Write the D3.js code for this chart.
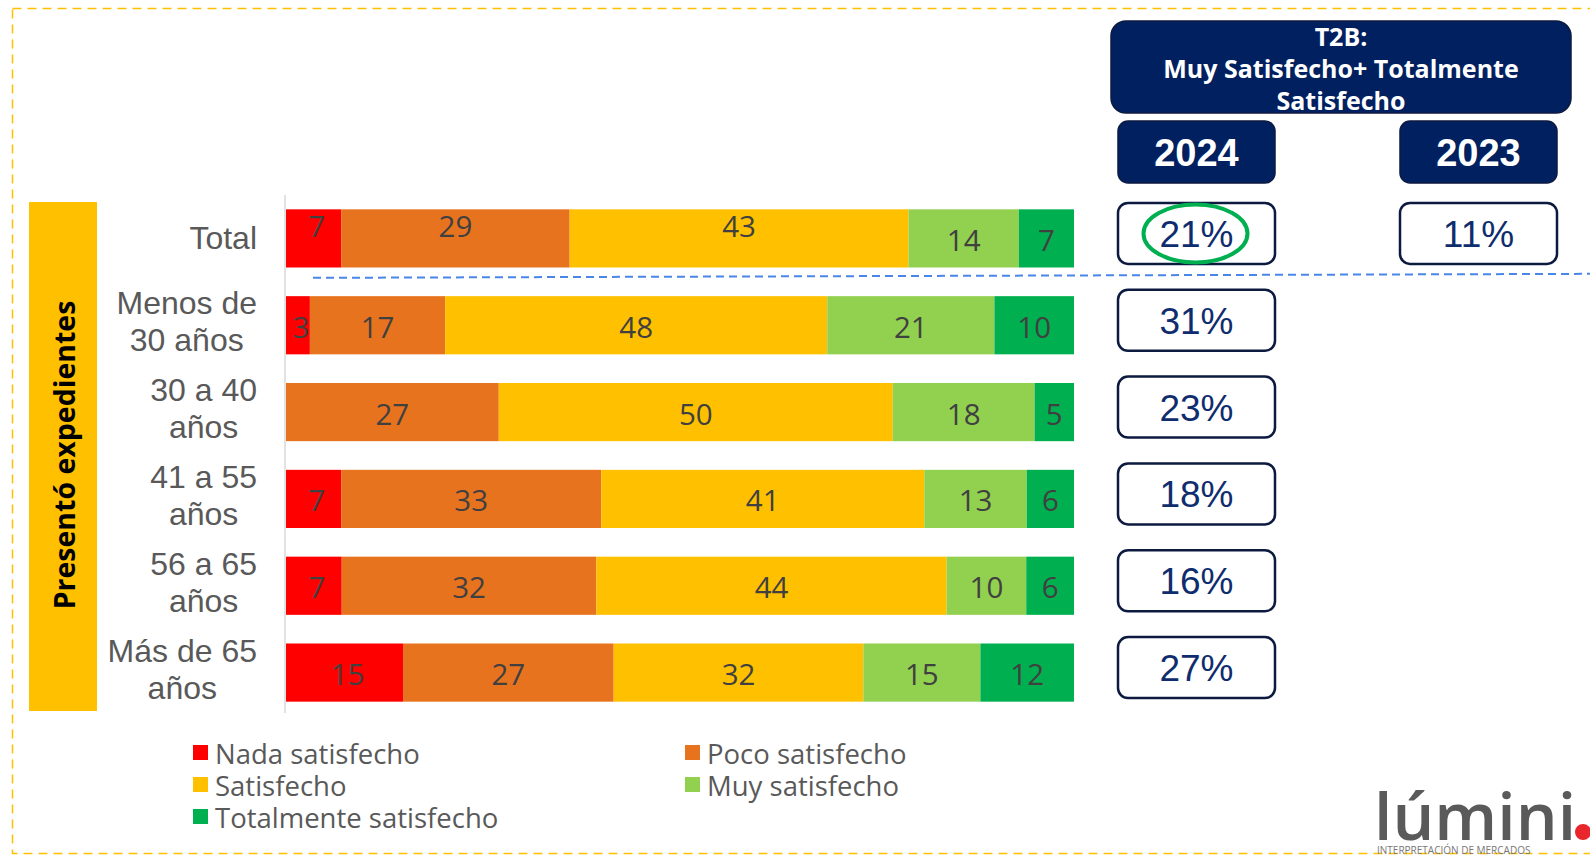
<!DOCTYPE html>
<html>
<head>
<meta charset="utf-8">
<script src="https://cdn.jsdelivr.net/npm/d3@7.9.0/dist/d3.min.js"></script>
<style>
  body { margin: 0; background: #fff; }
  svg { display: block; }
</style>
</head>
<body>
<svg id="chart" width="1590" height="856"></svg>
<script>
// data
const categories = ["Total", "Menos de\n30 años", "30 a 40\naños", "41 a 55\naños", "56 a 65\naños", "Más de 65\naños"];
const levels = ["Nada satisfecho", "Poco satisfecho", "Satisfecho", "Muy satisfecho", "Totalmente satisfecho"];
const nada = [7, 3, 0, 7, 7, 15];
const poco = [29, 17, 27, 33, 32, 27];
const satisfecho = [43, 48, 50, 41, 44, 32];
const muy = [14, 21, 18, 13, 10, 15];
const totalmente = [7, 10, 5, 6, 6, 12];
const years = ["2024", "2023"];
const t2b2024 = [21, 31, 23, 18, 16, 27];
const t2b2023 = [11];   // only the Total row has a 2023 figure
const sideTitle = "Presentó expedientes";
const t2bTitle = ["T2B:", "Muy Satisfecho+ Totalmente", "Satisfecho"];

const colors = ["#ff0000", "#e8731e", "#ffc000", "#92d050", "#00b050"];

const svg = d3.select("#chart");
const series = [nada, poco, satisfecho, muy, totalmente];
const rows = categories.map((c, i) => {
    const r = { cat: c };
    levels.forEach((k, j) => r[k] = series[j][i]);
    return r;
});

const stacked = d3.stack().keys(levels).offset(d3.stackOffsetExpand)(rows);

const x = d3.scaleLinear().domain([0, 1]).range([286, 1074]);
const y = d3.scaleBand().domain(categories).range([195, 716]).paddingInner(0.33).paddingOuter(0.165);
const color = d3.scaleOrdinal().domain(levels).range(colors);
const bw = y.bandwidth();

// outer dashed frame
svg.append("rect")
    .attr("x", 12.5).attr("y", 8.5).attr("width", 1620).attr("height", 845)
    .attr("fill", "none").attr("stroke", "#ffc000").attr("stroke-width", 1.5)
    .attr("stroke-dasharray", "9,6");

// yellow side box
svg.append("rect")
    .attr("x", 29).attr("y", 202).attr("width", 68).attr("height", 509)
    .attr("fill", "#ffc000");
svg.append("text")
    .attr("transform", "translate(64,455) rotate(-90)")
    .attr("text-anchor", "middle").attr("dominant-baseline", "central")
    .attr("font-family", "Open Sans").attr("font-weight", 700).attr("font-size", 28.5)
    .attr("fill", "#000").text(sideTitle);

// bars
const layer = svg.append("g").selectAll("g").data(stacked).join("g")
    .attr("fill", d => color(d.key));
layer.selectAll("rect").data(d => d).join("rect")
    .attr("x", d => x(d[0]))
    .attr("y", d => y(d.data.cat))
    .attr("width", d => x(d[1]) - x(d[0]))
    .attr("height", bw);

// value labels
stacked.forEach((s, j) => {
    svg.append("g").selectAll("text").data(s.filter(d => d.data[s.key] > 0)).join("text")
        .attr("x", d => (x(d[0]) + x(d[1])) / 2 + (j === 0 ? 3 : 0))
        .attr("y", d => y(d.data.cat) + bw / 2 + 1 - (d.data.cat === "Total" && j < 3 ? 14 : 0))
        .attr("text-anchor", "middle").attr("dominant-baseline", "central")
        .attr("font-family", "Open Sans").attr("font-size", 29.5).attr("fill", "#404040")
        .text(d => d.data[s.key]);
});

// category axis
const axis = svg.append("g").attr("transform", "translate(285,0)")
    .call(d3.axisLeft(y).tickSize(0).tickPadding(0));
axis.select(".domain").attr("stroke", "#d9d9d9").attr("stroke-width", 1.5)
    .attr("d", "M0,195V713");
axis.selectAll(".tick text").each(function (c) {
    const t = d3.select(this).text(null)
        .attr("font-family", "Liberation Sans, Arial").attr("font-size", 32)
        .attr("fill", "#595959").attr("text-anchor", "middle").attr("dy", null);
    const lines = c.split("\n");
    const base = lines.length === 1 ? [11] : [-11, 26];
    lines.forEach((l, i) => t.append("tspan").attr("y", base[i]).text(l));
    let w = 0;
    t.selectAll("tspan").each(function () { w = Math.max(w, this.getComputedTextLength()); });
    t.attr("x", -28 - w / 2);
    t.selectAll("tspan").attr("x", -28 - w / 2);
});

// dashed separator under Total
const sepY = y("Total") + bw + (y.step() - bw) / 2;
svg.append("line")
    .attr("x1", 313).attr("y1", sepY - 4).attr("x2", 1590).attr("y2", sepY - 8)
    .attr("stroke", "#4a86e8").attr("stroke-width", 2).attr("stroke-dasharray", "8,5");

// T2B header
const navy = "#002060";
svg.append("rect")
    .attr("x", 1111).attr("y", 21).attr("width", 460).attr("height", 92).attr("rx", 15)
    .attr("fill", navy).attr("stroke", "#0c1a40").attr("stroke-width", 1.5);
svg.append("g").selectAll("text").data(t2bTitle).join("text")
    .attr("x", 1341).attr("y", (d, i) => 36 + i * 32)
    .attr("text-anchor", "middle").attr("dominant-baseline", "central")
    .attr("font-family", "Open Sans").attr("font-weight", 700).attr("font-size", 25)
    .attr("fill", "#fff").text(d => d);

const colX = d3.scaleOrdinal().domain(years).range([1118, 1400]);
const boxW = 157;

svg.append("g").selectAll("rect").data(years).join("rect")
    .attr("x", d => colX(d)).attr("y", 121).attr("width", boxW).attr("height", 62).attr("rx", 10)
    .attr("fill", navy).attr("stroke", "#0c1a40").attr("stroke-width", 1.5);
svg.append("g").selectAll("text").data(years).join("text")
    .attr("x", d => colX(d) + boxW / 2).attr("y", 153)
    .attr("text-anchor", "middle").attr("dominant-baseline", "central")
    .attr("font-family", "Liberation Sans, Arial").attr("font-weight", 700).attr("font-size", 38)
    .attr("fill", "#fff").text(d => d);

// T2B value boxes
const cells = [];
t2b2024.forEach((v, i) => cells.push({ year: "2024", cat: categories[i], v }));
t2b2023.forEach((v, i) => cells.push({ year: "2023", cat: categories[i], v }));

const cellY = d => y(d.cat) + bw / 2 - 5;
svg.append("g").selectAll("rect").data(cells).join("rect")
    .attr("x", d => colX(d.year)).attr("y", d => cellY(d) - 30.5)
    .attr("width", boxW).attr("height", 61).attr("rx", 10)
    .attr("fill", "#fff").attr("stroke", "#0c1a40").attr("stroke-width", 2.5);
svg.append("g").selectAll("text").data(cells).join("text")
    .attr("x", d => colX(d.year) + boxW / 2).attr("y", d => cellY(d) + 1)
    .attr("text-anchor", "middle").attr("dominant-baseline", "central")
    .attr("font-family", "Liberation Sans, Arial").attr("font-size", 37)
    .attr("fill", "#0f2d6e").text(d => d.v + "%");

// green highlight around Total 2024
svg.append("ellipse")
    .attr("cx", colX("2024") + boxW / 2 - 1).attr("cy", cellY(cells[0]))
    .attr("rx", 52).attr("ry", 29)
    .attr("fill", "none").attr("stroke", "#00b050").attr("stroke-width", 4);

// legend
const legend = svg.append("g").selectAll("g").data(levels).join("g")
    .attr("transform", (d, i) => `translate(${i % 2 ? 685 : 193},${752 + Math.floor(i / 2) * 32})`);
legend.append("rect").attr("x", 0).attr("y", -7).attr("width", 15).attr("height", 15)
    .attr("fill", d => color(d));
legend.append("text").attr("x", 22).attr("y", 1)
    .attr("dominant-baseline", "central")
    .attr("font-family", "Open Sans").attr("font-size", 27.5).attr("fill", "#595959")
    .text(d => d);

// logo
svg.append("text").attr("x", 1374).attr("y", 840)
    .attr("font-family", "Open Sans").attr("font-weight", 600).attr("font-size", 66)
    .attr("fill", "#5a5a5a").text("lúmini");
svg.append("circle").attr("cx", 1583).attr("cy", 832).attr("r", 8).attr("fill", "#e8262b");
svg.append("text").attr("x", 1377).attr("y", 854)
    .attr("font-family", "Open Sans").attr("font-size", 10).attr("fill", "#777")
    .text("INTERPRETACIÓN DE MERCADOS");
</script>
</body>
</html>
